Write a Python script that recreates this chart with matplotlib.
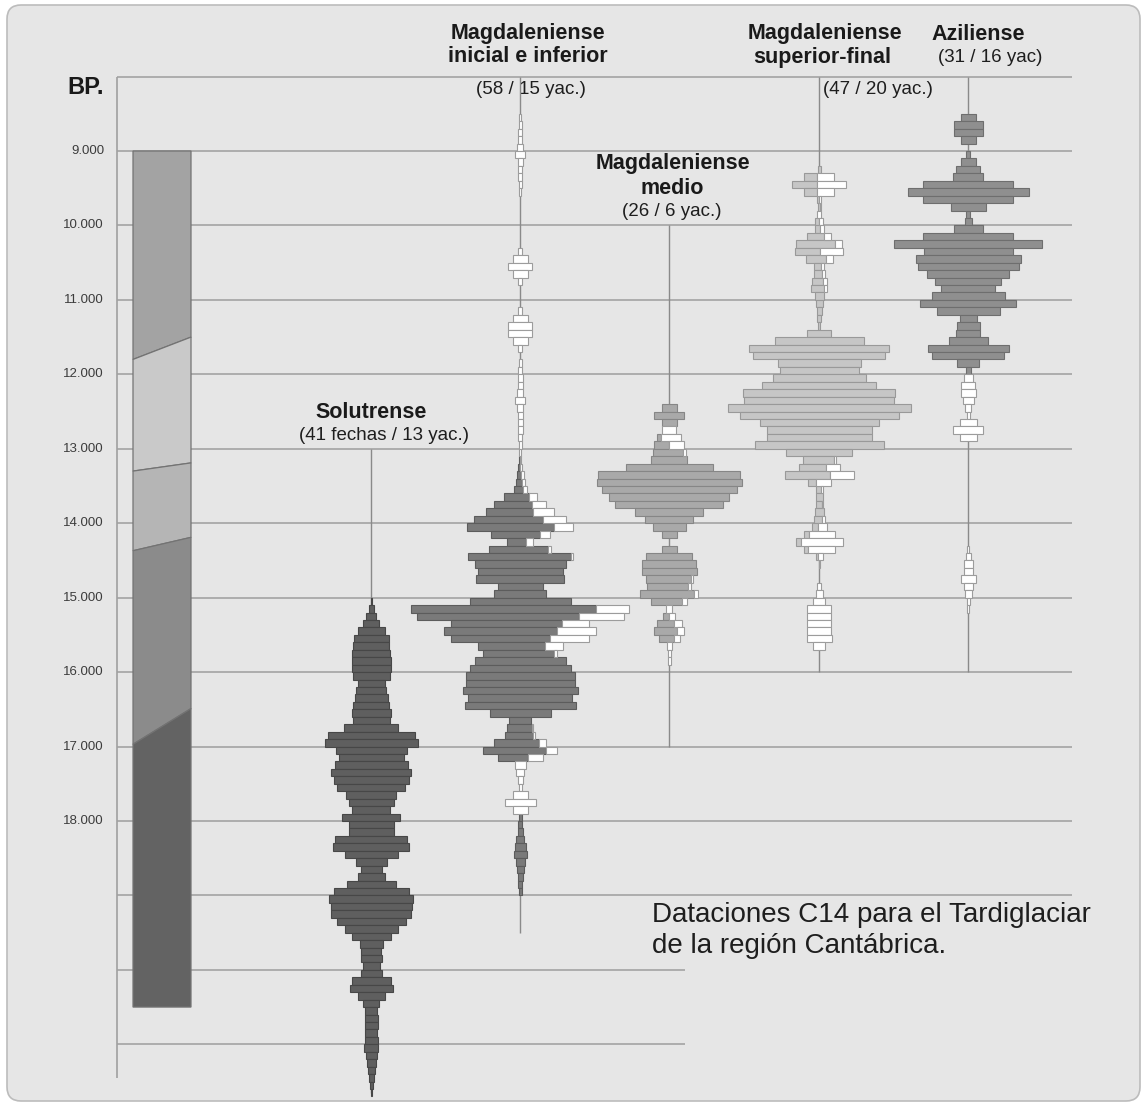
import numpy as np
import matplotlib
matplotlib.use("Agg")
import matplotlib.pyplot as plt
from matplotlib.patches import FancyBboxPatch, Polygon

plt.rcParams["font.family"] = ["Liberation Sans", "DejaVu Sans"]

# ---------------------------------------------------------------------------
# Data: frequency of C14 dates per 100-year bin (years BP)
# each series: first bin, main (dated) frequency, secondary (white) frequency
# ---------------------------------------------------------------------------
BIN = 100

sol_start = 15000
sol_main = [1, 5, 10, 16, 27, 35, 36, 38, 39, 39, 37, 27, 30, 33, 36, 39, 37, 54, 87, 93,
            71, 65, 73, 80, 75, 68, 50, 45, 38, 58, 45, 45, 72, 76, 53, 31, 21, 27, 49, 75,
            84, 81, 80, 69, 53, 39, 23, 20, 21, 17, 21, 39, 43, 27, 16, 12, 13, 13, 12, 13,
            14, 11, 9, 7, 5, 3, 1]
sol_white = [0] * len(sol_main)

ini_start = 8500
ini_main = [0, 0, 0, 0, 0, 0, 0, 0, 0, 0,          # 8500-9400
            0, 0, 0, 0, 0, 0, 0, 0, 0, 0,          # 9500-10400
            0, 0, 0, 0, 0, 0, 0, 0, 0, 0,          # 10500-11400
            0, 0, 0, 0, 0, 0, 0, 0, 0, 0,          # 11500-12400
            0, 0, 0, 0, 0, 0, 1, 2, 4, 6,          # 12500-13400
            9, 25, 38, 47, 69, 87, 49, 19, 59, 103,  # 13500-14400
            91, 85, 88, 45, 52, 101, 185, 162, 111, 113,  # 14500-15400
            99, 67, 71, 91, 101, 109, 109, 115, 104, 111,  # 15500-16400
            61, 22, 25, 28, 45, 63, 30, 0, 0, 0,   # 16500-17400
            0, 0, 0, 0, 3, 4, 5, 8, 11, 13,        # 17500-18400
            9, 7, 5, 4, 3]                         # 18500-18900
ini_white = [2, 3, 4, 4, 6, 10, 5, 4, 4, 3,
             2, 0, 0, 0, 0, 0, 0, 0, 4, 15,
             24, 15, 4, 0, 0, 0, 4, 15, 24, 24,
             15, 4, 0, 3, 4, 5, 5, 6, 10, 6,
             5, 5, 5, 4, 3, 2, 1, 2, 3, 3,
             4, 8, 14, 21, 23, 19, 10, 7, 3, 2,
             0, 0, 0, 0, 0, 0, 33, 45, 27, 39,
             39, 18, 3, 0, 0, 0, 0, 0, 0, 0,
             0, 0, 1, 2, 7, 11, 15, 11, 8, 5,
             3, 15, 31, 15, 0, 0, 0, 0, 0, 0,
             0, 0, 0, 0, 0]

med_start = 12400
med_main = [15, 30, 15, 0, 4, 15, 30, 36, 87, 142,
            145, 135, 120, 108, 68, 48, 33, 15, 0, 15,
            46, 54, 55, 45, 41, 54, 31, 0, 6, 17,
            23, 15, 0, 0, 0]
med_white = [0, 0, 0, 14, 20, 15, 3, 0, 0, 0,
             0, 0, 0, 0, 0, 0, 0, 0, 0, 0,
             0, 0, 0, 2, 3, 4, 5, 6, 6, 8,
             7, 6, 5, 3, 3]

sup_start = 9200
sup_main = [3, 13, 25, 13, 2, 2, 0, 4, 5, 17,
            39, 25, 20, 7, 8, 11, 13, 9, 7, 5,
            4, 2, 24, 89, 140, 132, 83, 79, 93, 114,
            152, 150, 183, 159, 119, 105, 105, 129, 66, 31,
            27, 45, 8, 5, 7, 6, 9, 8, 6, 5,
            5, 4, 2, 0, 0, 0, 0, 0, 0, 0,
            0, 0, 0, 0, 0]
sup_white = [0, 17, 29, 17, 2, 1, 4, 4, 4, 7,
             7, 23, 7, 3, 3, 4, 3, 0, 0, 0,
             0, 0, 0, 0, 0, 0, 0, 0, 0, 0,
             0, 0, 0, 0, 0, 0, 0, 0, 0, 2,
             14, 24, 15, 2, 0, 1, 0, 3, 9, 26,
             42, 27, 5, 1, 0, 0, 4, 7, 12, 24,
             24, 24, 24, 25, 12]

azi_start = 8500
azi_main = [15, 29, 29, 15, 0, 4, 15, 24, 30, 90,
            121, 90, 35, 4, 7, 29, 90, 148, 89, 105,
            101, 82, 66, 54, 73, 96, 63, 17, 23, 24,
            39, 81, 72, 22, 5, 0, 0, 0, 0, 0,
            0, 0, 0, 0, 0, 0, 0, 0, 0, 0,
            0, 0, 0, 0, 0, 0, 0, 0, 0, 0,
            0, 0, 0, 0, 0, 0, 0]
azi_white = [0, 0, 0, 0, 0, 0, 0, 0, 0, 0,
             0, 0, 0, 0, 0, 0, 0, 0, 0, 0,
             0, 0, 0, 0, 0, 0, 0, 0, 0, 0,
             0, 0, 0, 0, 0, 9, 14, 15, 11, 6,
             3, 17, 30, 17, 0, 0, 0, 0, 0, 0,
             0, 0, 0, 0, 0, 0, 0, 0, 2, 5,
             9, 9, 15, 9, 7, 3, 2]

# chronological column (boundaries on the left and right edge, years BP)
strat_left = [9000, 11800, 13300, 14370, 16970, 20500]
strat_right = [9000, 11500, 13190, 14190, 16490, 20500]
strat_colors = ["#a3a3a3", "#c9c9c9", "#b5b5b5", "#8b8b8b", "#636363"]

tick_years = list(range(9000, 19000, 1000))
grid_years = list(range(8000, 22000, 1000))

# ---------------------------------------------------------------------------
W, H, DPI = 1146, 1109, 100
fig = plt.figure(figsize=(W / DPI, H / DPI), dpi=DPI)
fig.patch.set_facecolor("white")

# background panel in pixel coordinates
bg = fig.add_axes([0, 0, 1, 1])
bg.set_xlim(0, W)
bg.set_ylim(H, 0)
bg.axis("off")
bg.add_patch(FancyBboxPatch((7, 5), 1133, 1096,
                            boxstyle="round,pad=0,rounding_size=14",
                            facecolor="#e6e6e6", edgecolor="#bcbcbc", lw=1.2))

# chart axes: x in pixels, y in years BP (increasing downwards)
PX_PER_YEAR = 0.07444
Y_REF_PIX, Y_REF = 151, 9000
y_top = Y_REF - Y_REF_PIX / PX_PER_YEAR
y_bot = Y_REF + (H - Y_REF_PIX) / PX_PER_YEAR
ax = fig.add_axes([0, 0, 1, 1], facecolor="none")
ax.set_xlim(0, W)
ax.set_ylim(y_bot, y_top)
ax.axis("off")

# grid and vertical axis
for yr in grid_years:
    ax.hlines(yr, 117, 1072 if yr <= 19000 else 685, color="#a8a8a8", lw=1.3, zorder=1)
ax.vlines(117, 8000, 21450, color="#a0a0a0", lw=1.2, zorder=1)
for yr in tick_years:
    ax.text(104, yr, f"{yr // 1000}.000", ha="right", va="center",
            fontsize=9.5, color="#3c3c3c")
ax.text(86, 8150, "BP.", ha="center", va="center", fontsize=17,
        fontweight="bold", family=["Liberation Sans Narrow", "Liberation Sans", "DejaVu Sans"],
        color="#1a1a1a")

# chronological column
for i, c in enumerate(strat_colors):
    poly = Polygon([(133, strat_left[i]), (191, strat_right[i]),
                    (191, strat_right[i + 1]), (133, strat_left[i + 1])],
                   closed=True, facecolor=c, edgecolor="#737373", lw=0.9, zorder=2)
    ax.add_patch(poly)

# frequency "spindles"
groups = [
    dict(x=371, start=sol_start, main=sol_main, white=sol_white, line=(13000, 21650),
         fc="#5f5f5f", ec="#474747"),
    dict(x=520, start=ini_start, main=ini_main, white=ini_white, line=(8000, 19500),
         fc="#7a7a7a", ec="#5c5c5c"),
    dict(x=669, start=med_start, main=med_main, white=med_white, line=(10000, 17000),
         fc="#a9a9a9", ec="#868686"),
    dict(x=819, start=sup_start, main=sup_main, white=sup_white, line=(8000, 16000),
         fc="#c6c6c6", ec="#999999"),
    dict(x=968, start=azi_start, main=azi_main, white=azi_white, line=(8000, 16000),
         fc="#8f8f8f", ec="#6e6e6e"),
]

for g in groups:
    ax.vlines(g["x"], *g["line"], color="#8a8a8a", lw=1.0, zorder=2)
    m = np.asarray(g["main"], float)
    w = np.asarray(g["white"], float)
    yrs = g["start"] + BIN * np.arange(len(m)) + BIN / 2
    total = m + w
    left = g["x"] - total / 2
    k = m > 0
    ax.barh(yrs[k], m[k], left=left[k], height=BIN, color=g["fc"],
            edgecolor=g["ec"], lw=0.8, zorder=3)
    k = w > 0
    ax.barh(yrs[k], w[k], left=(left + m)[k], height=BIN, color="white",
            edgecolor="#9c9c9c", lw=0.8, zorder=3)

# titles
bold = dict(fontsize=15.5, fontweight="bold", ha="center", va="center", color="#1a1a1a")
reg = dict(fontsize=13.5, ha="center", va="center", color="#1e1e1e")
bg.text(528, 33, "Magdaleniense", **bold)
bg.text(528, 57, "inicial e inferior", **bold)
bg.text(531, 90, "(58 / 15 yac.)", **reg)
bg.text(673, 164, "Magdaleniense", **bold)
bg.text(672, 188, "medio", **bold)
bg.text(672, 211, "(26 / 6 yac.)", **reg)
bg.text(825, 33, "Magdaleniense", **bold)
bg.text(822, 57, "superior-final", **bold)
bg.text(878, 90, "(47 / 20 yac.)", **reg)
bg.text(978, 34, "Aziliense", **bold)
bg.text(990, 58, "(31 / 16 yac)", **reg)
bg.text(371, 413, "Solutrense", **bold)
bg.text(384, 436, "(41 fechas / 13 yac.)", **reg)

bg.text(652, 915, "Dataciones C14 para el Tardiglaciar", ha="left", va="center",
        fontsize=20, color="#1e1e1e")
bg.text(652, 946, "de la región Cantábrica.", ha="left", va="center",
        fontsize=20, color="#1e1e1e")

fig.savefig("out.png", dpi=DPI)
